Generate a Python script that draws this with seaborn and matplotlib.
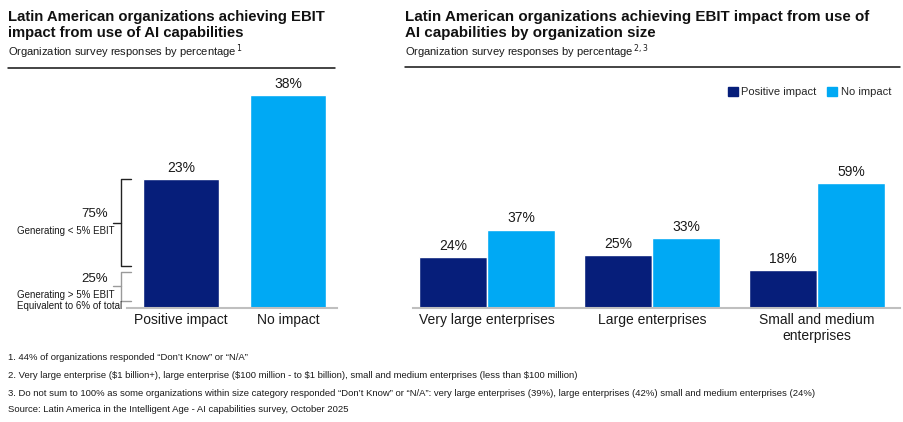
import matplotlib
matplotlib.use("Agg")
import matplotlib.pyplot as plt
import matplotlib.transforms as mtransforms
from matplotlib.patches import Patch
import seaborn as sns
import pandas as pd

# ---------------- data ----------------
left_categories = ["Positive impact", "No impact"]
left_values = [23, 38]

size_categories = ["Very large enterprises", "Large enterprises", "Small and medium\nenterprises"]
positive_impact = [24, 25, 18]
no_impact = [37, 33, 59]
series_names = ["Positive impact", "No impact"]

share_labels = ["75%", "25%"]
share_texts = ["Generating < 5% EBIT", "Generating > 5% EBIT\nEquivalent to 6% of total"]

footnotes = [
    "1. 44% of organizations responded \u201cDon\u2019t Know\u201d or \u201cN/A\u201d",
    "2. Very large enterprise ($1 billion+), large enterprise ($100 million - to $1 billion), small and medium enterprises (less than $100 million)",
    "3. Do not sum to 100% as some organizations within size category responded \u201cDon\u2019t Know\u201d or \u201cN/A\u201d: very large enterprises (39%), large enterprises (42%) small and medium enterprises (24%)",
    "Source: Latin America in the Intelligent Age - AI capabilities survey, October 2025",
]

DARK = "#061E7A"
LIGHT = "#00A9F4"
GREY = "#BFBFBF"

sns.set_theme(style="white")
plt.rcParams["font.family"] = ["Liberation Sans", "DejaVu Sans"]

W, H = 904, 422
fig = plt.figure(figsize=(W / 100, H / 100), dpi=100)


def fx(px):
    return px / W


def fy(py):
    return 1 - py / H


# ---------------- left chart ----------------
base = 307.7
ax1 = fig.add_axes([fx(127), fy(base), fx(337 - 127), (base - 80) / H])
sns.barplot(x=left_categories, y=left_values, hue=left_categories,
            palette=[DARK, LIGHT], width=0.71, legend=False, ax=ax1,
            saturation=1)
ax1.set_xlim(-0.507, 1.455)
ax1.set_ylim(0, (base - 80) / 5.6)
for p, v in zip(ax1.patches, left_values):
    ax1.annotate(f"{v}%", (p.get_x() + p.get_width() / 2, p.get_height()),
                 xytext=(0, 3), textcoords="offset points", ha="center",
                 va="bottom", fontsize=10, color="#1a1a1a")

# brackets for the positive impact bar
blend = mtransforms.blended_transform_factory(fig.transFigure, ax1.transData)
pv = left_values[0]
upper = (pv * 0.32, pv)
lower = (pv * 0.05, pv * 0.28)
for (y0, y1), col in zip([upper, lower], ["#222222", "#9a9a9a"]):
    xs = [fx(131), fx(121), fx(121), fx(131)]
    ax1.plot(xs, [y1, y1, y0, y0], color=col, lw=1, transform=blend,
             clip_on=False)
    ym = (y0 + y1) / 2
    ax1.plot([fx(113), fx(121)], [ym, ym], color=col, lw=1, transform=blend,
             clip_on=False)

ax1.text(fx(94.5), upper[0] + (upper[1] - upper[0]) * 0.6, share_labels[0],
         transform=blend, ha="center", va="center", fontsize=9.5, color="#1a1a1a")
ax1.text(fx(17), (upper[0] + upper[1]) / 2 - 1.5, share_texts[0],
         transform=blend, ha="left", va="center", fontsize=7, color="#1a1a1a")
ax1.text(fx(94.5), lower[1] - 1.3, share_labels[1],
         transform=blend, ha="center", va="center", fontsize=9.5, color="#1a1a1a")
ax1.text(fx(17), lower[0] - 1.7, share_texts[1], linespacing=1.1,
         transform=blend, ha="left", va="bottom", fontsize=7, color="#1a1a1a")

# ---------------- right chart ----------------
df = pd.DataFrame({
    "size": size_categories * 2,
    "impact": [series_names[0]] * 3 + [series_names[1]] * 3,
    "value": positive_impact + no_impact,
})
ax2 = fig.add_axes([fx(413), fy(base), fx(900 - 413), (base - 110) / H])
sns.barplot(data=df, x="size", y="value", hue="impact", hue_order=series_names,
            order=size_categories, palette=[DARK, LIGHT], width=0.824, gap=0,
            saturation=1, ax=ax2)
ax2.set_xlim(-0.448, 2.503)
ax2.set_ylim(0, (base - 110) / 2.11)
for p in ax2.patches:
    h = p.get_height()
    if h > 0:
        ax2.annotate(f"{h:.0f}%", (p.get_x() + p.get_width() / 2, h),
                     xytext=(0, 3), textcoords="offset points", ha="center",
                     va="bottom", fontsize=10, color="#1a1a1a")
ax2.legend_.remove()
fig.legend(handles=[Patch(color=DARK, label=series_names[0]),
                    Patch(color=LIGHT, label=series_names[1])],
           loc="center right", bbox_to_anchor=(fx(891), fy(92)), ncol=2,
           frameon=False, fontsize=8, handlelength=0.9, handleheight=0.85,
           handletextpad=0.35, columnspacing=0.9, borderaxespad=0,
           borderpad=0)

for ax in (ax1, ax2):
    ax.set_xlabel("")
    ax.set_ylabel("")
    ax.set_yticks([])
    for s in ("left", "right", "top"):
        ax.spines[s].set_visible(False)
    ax.spines["bottom"].set_color(GREY)
    ax.spines["bottom"].set_linewidth(1.5)
    ax.tick_params(axis="x", length=0, pad=4, labelsize=10, labelcolor="#1a1a1a")
    ax.patch.set_alpha(0)

# ---------------- titles ----------------
fig.text(fx(8), fy(10), "Latin American organizations achieving EBIT\nimpact from use of AI capabilities",
         ha="left", va="top", fontsize=10.7, fontweight="bold", linespacing=1.15,
         color="#111111")
fig.text(fx(8), fy(52), "Organization survey responses by percentage$^{\\,1}$",
         ha="left", va="center", fontsize=8, color="#1a1a1a")
fig.add_artist(plt.Line2D([fx(8), fx(335)], [fy(67.5), fy(67.5)], color="#111111", lw=1.1))

fig.text(fx(405), fy(10), "Latin American organizations achieving EBIT impact from use of\nAI capabilities by organization size",
         ha="left", va="top", fontsize=10.9, fontweight="bold", linespacing=1.15,
         color="#111111")
fig.text(fx(405), fy(52), "Organization survey responses by percentage$^{\\,2,3}$",
         ha="left", va="center", fontsize=8, color="#1a1a1a")
fig.add_artist(plt.Line2D([fx(405), fx(900)], [fy(66.5), fy(66.5)], color="#111111", lw=1.1))

# ---------------- footnotes ----------------
for t, y in zip(footnotes, [357, 376, 394, 410]):
    fig.text(fx(8), fy(y), t, ha="left", va="center", fontsize=6.8,
             color="#1a1a1a", parse_math=False)

fig.savefig("out.png", dpi=100)
